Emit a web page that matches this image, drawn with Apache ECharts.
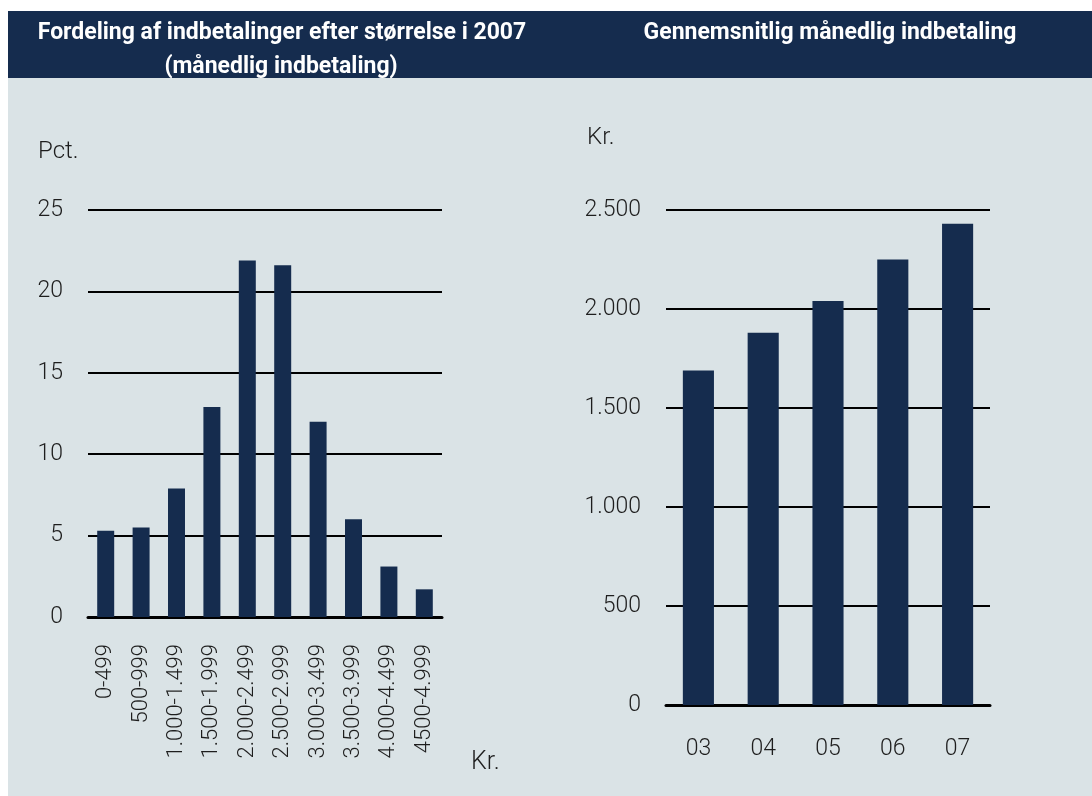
<!DOCTYPE html>
<html>
<head>
<meta charset="utf-8">
<script src="https://cdn.jsdelivr.net/npm/echarts@6/dist/echarts.min.js"></script>
<style>
html,body{margin:0;padding:0;background:#ffffff;}
#c{width:1092px;height:796px;}
</style>
</head>
<body>
<div id="c"></div>
<script>
// Left chart: distribution of payments by size, 2007 (pct.)
const sizeCategories = ['0-499','500-999','1.000-1.499','1.500-1.999','2.000-2.499','2.500-2.999','3.000-3.499','3.500-3.999','4.000-4.499','4500-4.999'];
const sizeShares = [5.3, 5.5, 7.9, 12.9, 21.9, 21.6, 12.0, 6.0, 3.1, 1.7];
const pctTicks = { min: 0, max: 25, interval: 5 };

// Right chart: average monthly payment (kr.)
const years = ['03','04','05','06','07'];
const avgPayment = [1690, 1880, 2040, 2250, 2430];
const krTicks = { min: 0, max: 2500, interval: 500 };

const titleLeft1 = 'Fordeling af indbetalinger efter størrelse i 2007';
const titleLeft2 = '(månedlig indbetaling)';
const titleRight = 'Gennemsnitlig månedlig indbetaling';

const NAVY = '#152c4e';
const BG = '#dae3e6';
const TXT = '#1e1e1e';
const FONT = 'Roboto, "Noto Sans", sans-serif';

const fmtKr = v => v === 0 ? '0' : (v >= 1000 ? Math.floor(v/1000) + '.' + String(v%1000).padStart(3,'0') : String(v));

const chart = echarts.init(document.getElementById('c'), null, {renderer:'canvas'});
chart.setOption({
  animation: false,
  backgroundColor: '#ffffff',
  graphic: [
    {type:'rect', left:8, top:78, shape:{width:1084, height:718}, style:{fill:BG}, z:-10},
    {type:'rect', left:8, top:11, shape:{width:1084, height:67}, style:{fill:NAVY}, z:-10},
    {type:'text', x:282, y:33, style:{text:titleLeft1, fill:'#ffffff', font:'bold 23px ' + FONT, textAlign:'center', textVerticalAlign:'middle'}},
    {type:'text', x:281, y:67, style:{text:titleLeft2, fill:'#ffffff', font:'bold 23px ' + FONT, textAlign:'center', textVerticalAlign:'middle'}},
    {type:'text', x:830, y:33, style:{text:titleRight, fill:'#ffffff', font:'bold 23px ' + FONT, textAlign:'center', textVerticalAlign:'middle'}},
    {type:'text', x:38, y:152, style:{text:'Pct.', fill:TXT, font:'300 24px ' + FONT, textAlign:'left', textVerticalAlign:'middle'}},
    {type:'text', x:587, y:138, style:{text:'Kr.', fill:TXT, font:'300 24px ' + FONT, textAlign:'left', textVerticalAlign:'middle'}},
    {type:'text', x:471, y:763, style:{text:'Kr.', fill:TXT, font:'300 25px ' + FONT, textAlign:'left', textVerticalAlign:'middle'}}
  ],
  grid: [
    {left:88, right:650, top:210, bottom:179},
    {left:666, right:102, top:210, bottom:91}
  ],
  xAxis: [
    {type:'category', gridIndex:0, data:sizeCategories,
     axisLine:{show:true, lineStyle:{color:'#000', width:3}}, axisTick:{show:false},
     axisLabel:{rotate:90, interval:0, margin:27, color:TXT, fontFamily:FONT, fontWeight:300, fontSize:22}},
    {type:'category', gridIndex:1, data:years,
     axisLine:{show:true, lineStyle:{color:'#000', width:3}}, axisTick:{show:false},
     axisLabel:{margin:33, color:TXT, fontFamily:FONT, fontWeight:300, fontSize:23}}
  ],
  yAxis: [
    {type:'value', gridIndex:0, min:pctTicks.min, max:pctTicks.max, interval:pctTicks.interval,
     axisLine:{show:false}, axisTick:{show:false},
     splitLine:{lineStyle:{color:'#000', width:2}},
     axisLabel:{margin:25, padding:[5,0,0,0], color:TXT, fontFamily:FONT, fontWeight:300, fontSize:23}},
    {type:'value', gridIndex:1, min:krTicks.min, max:krTicks.max, interval:krTicks.interval,
     axisLine:{show:false}, axisTick:{show:false},
     splitLine:{lineStyle:{color:'#000', width:2}},
     axisLabel:{margin:25, padding:[5,0,0,0], color:TXT, fontFamily:FONT, fontWeight:300, fontSize:23, formatter:fmtKr}}
  ],
  series: [
    {type:'bar', xAxisIndex:0, yAxisIndex:0, data:sizeShares, barWidth:'48%', itemStyle:{color:NAVY}, z:3},
    {type:'bar', xAxisIndex:1, yAxisIndex:1, data:avgPayment, barWidth:'48%', itemStyle:{color:NAVY}, z:3}
  ]
});
</script>
</body>
</html>
